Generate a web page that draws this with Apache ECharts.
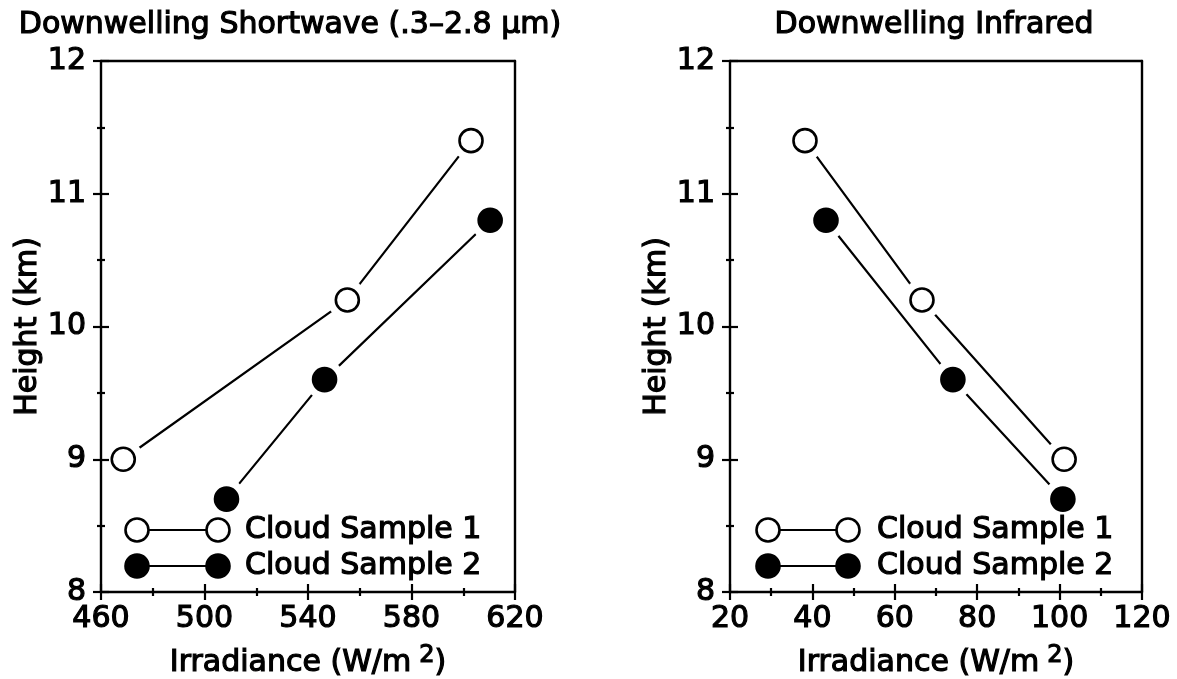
<!DOCTYPE html>
<html>
<head>
<meta charset="utf-8">
<script src="https://cdn.jsdelivr.net/npm/echarts@6/dist/echarts.min.js"></script>
<style>
html,body{margin:0;padding:0;background:#fff;}
#c{width:1177px;height:679px;}
</style>
</head>
<body>
<div id="c"></div>
<script>
// ---- data ----
const titles = ['Downwelling Shortwave (.3\u20132.8 \u03bcm)', 'Downwelling Infrared'];
const seriesNames = ['Cloud Sample 1', 'Cloud Sample 2'];
// Shortwave panel
const swX1 = [468.6, 555.2, 603.0];
const swY1 = [9.0, 10.2, 11.4];
const swX2 = [508.5, 546.4, 610.4];
const swY2 = [8.7, 9.6, 10.8];
// Infrared panel
const irX1 = [38.2, 66.6, 101.1];
const irY1 = [11.4, 10.2, 9.0];
const irX2 = [43.3, 74.1, 100.8];
const irY2 = [10.8, 9.6, 8.7];
// axes
const swXAxis = {min: 460, max: 620, interval: 40};
const irXAxis = {min: 20, max: 120, interval: 20};
const yAxisRange = {min: 8, max: 12, interval: 1};
const xName = 'Irradiance (W/m';
const yName = 'Height (km)';

const FONT = 'DejaVu Sans';
const FW = 'normal';
const FS = 30;
const TB = 1.2; // slight text outline to thicken strokes
const chart = echarts.init(document.getElementById('c'));

const grids = [
  {left: 101, top: 61, width: 414, height: 531, outerBoundsMode: 'none', containLabel: false},
  {left: 730, top: 61, width: 412, height: 531, outerBoundsMode: 'none', containLabel: false}
];

function pairs(xs, ys){ return xs.map((x,i)=>[x, ys[i]]); }
const txt = (extra) => Object.assign({color: '#000', fontFamily: FONT, fontWeight: FW, fontSize: FS, textBorderColor: '#000', textBorderWidth: TB}, extra || {});

const xAxes = [], yAxes = [];
[swXAxis, irXAxis].forEach((ax, g) => {
  xAxes.push({
    type: 'value', gridIndex: g, min: ax.min, max: ax.max, interval: ax.interval,
    position: 'bottom', z: 10,
    axisLine: {show: true, lineStyle: {color: '#000', width: 2.4}},
    axisTick: {show: true, inside: false, length: 8, lineStyle: {color: '#000', width: 2.2}},
    minorTick: {show: true, splitNumber: 2, length: 4, lineStyle: {color: '#000', width: 2.2}},
    splitLine: {show: false},
    axisLabel: txt({margin: 12}),
    name: '{a|' + xName + '}{s|2}{a|)}',
    nameLocation: 'middle', nameGap: 52,
    nameTextStyle: txt({
      rich: {a: txt({lineHeight: 34, verticalAlign: 'bottom'}),
             s: txt({fontSize: 24, lineHeight: 34, verticalAlign: 'top', padding: [0, 0, 0, 8]})}})
  });
  xAxes.push({
    type: 'value', gridIndex: g, min: ax.min, max: ax.max, interval: ax.interval,
    position: 'bottom', z: 10,
    axisLine: {show: false},
    axisTick: {show: true, inside: true, length: 8, lineStyle: {color: '#000', width: 2.2}},
    minorTick: {show: true, splitNumber: 2, length: 4, lineStyle: {color: '#000', width: 2.2}},
    splitLine: {show: false}, axisLabel: {show: false}
  });
  xAxes.push({
    type: 'value', gridIndex: g, min: ax.min, max: ax.max, interval: ax.interval,
    position: 'top', z: 10,
    axisLine: {show: true, lineStyle: {color: '#000', width: 2.4}},
    axisTick: {show: false}, splitLine: {show: false}, axisLabel: {show: false}
  });
  yAxes.push({
    type: 'value', gridIndex: g, min: yAxisRange.min, max: yAxisRange.max, interval: yAxisRange.interval,
    position: 'left', z: 10,
    axisLine: {show: true, lineStyle: {color: '#000', width: 2.4}},
    axisTick: {show: true, inside: false, length: 8, lineStyle: {color: '#000', width: 2.2}},
    minorTick: {show: true, splitNumber: 2, length: 4, lineStyle: {color: '#000', width: 2.2}},
    splitLine: {show: false},
    axisLabel: txt({margin: 15}),
    name: yName, nameLocation: 'middle', nameGap: 57, nameRotate: 90,
    nameTextStyle: txt()
  });
  yAxes.push({
    type: 'value', gridIndex: g, min: yAxisRange.min, max: yAxisRange.max, interval: yAxisRange.interval,
    position: 'left', z: 10,
    axisLine: {show: false},
    axisTick: {show: true, inside: true, length: 8, lineStyle: {color: '#000', width: 2.2}},
    minorTick: {show: true, splitNumber: 2, length: 4, lineStyle: {color: '#000', width: 2.2}},
    splitLine: {show: false}, axisLabel: {show: false}
  });
  yAxes.push({
    type: 'value', gridIndex: g, min: yAxisRange.min, max: yAxisRange.max, interval: yAxisRange.interval,
    position: 'right', z: 10,
    axisLine: {show: true, lineStyle: {color: '#000', width: 2.4}},
    axisTick: {show: false}, splitLine: {show: false}, axisLabel: {show: false}
  });
});

const panelData = [
  [pairs(swX1, swY1), pairs(swX2, swY2)],
  [pairs(irX1, irY1), pairs(irX2, irY2)]
];

const series = [];
panelData.forEach((pd, g) => {
  pd.forEach((data, k) => {
    const base = {xAxisIndex: g * 3, yAxisIndex: g * 3, data: data, silent: true, animation: false};
    series.push(Object.assign({}, base, {
      name: seriesNames[k], type: 'line', showSymbol: false, z: 1,
      lineStyle: {color: '#000', width: 2.2}
    }));
    series.push(Object.assign({}, base, {
      type: 'scatter', symbol: 'circle', symbolSize: 40, z: 2,
      itemStyle: {color: '#fff', opacity: 1}
    }));
    series.push(Object.assign({}, base, {
      name: seriesNames[k], type: 'scatter', symbol: 'circle', symbolSize: 23, z: 3,
      itemStyle: {color: k === 0 ? '#fff' : '#000', borderColor: '#000', borderWidth: 2.6, opacity: 1}
    }));
  });
});

const graphic = [];
const legendPos = [{x1: 137, x2: 218, tx: 245}, {x1: 768, x2: 848, tx: 877}];
const legendRows = [530, 566];
const gText = (text, x, y, align) => ({type: 'text', x: x, y: y, z: 20,
  style: {text: text, fill: '#000', stroke: '#000', lineWidth: TB, font: FW + ' ' + FS + 'px "' + FONT + '"', textAlign: align, textVerticalAlign: 'middle'}});
legendPos.forEach((lp) => {
  legendRows.forEach((y, k) => {
    const fill = k === 0 ? '#fff' : '#000';
    graphic.push({type: 'line', shape: {x1: lp.x1 + 12, y1: y, x2: lp.x2 - 12, y2: y}, style: {stroke: '#000', lineWidth: 2.2}, z: 20});
    graphic.push({type: 'circle', shape: {cx: lp.x1, cy: y, r: 11.5}, style: {fill: fill, stroke: '#000', lineWidth: 2.6}, z: 20});
    graphic.push({type: 'circle', shape: {cx: lp.x2, cy: y, r: 11.5}, style: {fill: fill, stroke: '#000', lineWidth: 2.6}, z: 20});
    graphic.push(gText(seriesNames[k], lp.tx, y, 'left'));
  });
});
const titlePos = [{x: 290, y: 25}, {x: 934, y: 25}];
titles.forEach((t, i) => {
  graphic.push(gText(t, titlePos[i].x, titlePos[i].y, 'center'));
});

chart.setOption({
  backgroundColor: '#fff',
  animation: false,
  grid: grids,
  xAxis: xAxes,
  yAxis: yAxes,
  series: series,
  graphic: graphic
});
</script>
</body>
</html>
